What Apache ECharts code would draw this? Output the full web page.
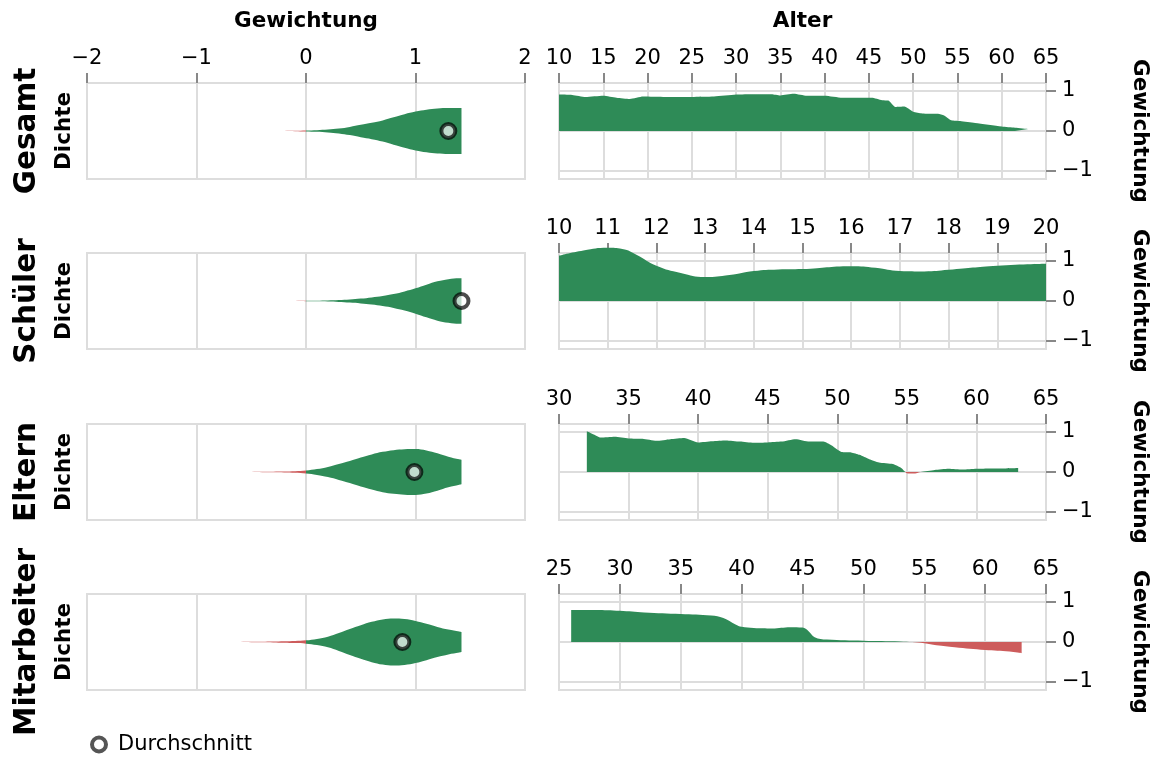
<!DOCTYPE html>
<html>
<head>
<meta charset="utf-8">
<script src="https://cdn.jsdelivr.net/npm/echarts@6/dist/echarts.min.js"></script>
<style>html,body{margin:0;padding:0;background:#fff}#c{width:1155px;height:758px}</style>
</head>
<body>
<div id="c"></div>
<script>
// ---------- DATA ----------
const groups = ['Gesamt', 'Schüler', 'Eltern', 'Mitarbeiter'];

// Violin (density of Gewichtung)
const violinX = [-0.8,-0.7,-0.6,-0.5,-0.4,-0.3,-0.2,-0.1,0,0.1,0.2,0.3,0.4,0.5,0.6,0.7,0.8,0.9,1.0,1.1,1.2,1.3,1.4,1.42];
const densGesamt      = [0,0,0,0,0,0,0.002,0.006,0.02,0.035,0.06,0.1,0.17,0.26,0.34,0.44,0.57,0.7,0.81,0.89,0.94,0.96,0.96,0.96];
const densSchueler    = [0,0,0,0,0,0.001,0.002,0.004,0.008,0.014,0.022,0.04,0.065,0.1,0.15,0.21,0.29,0.4,0.53,0.68,0.82,0.91,0.95,0.95];
const densEltern      = [0,0,0.002,0.004,0.007,0.011,0.017,0.03,0.06,0.12,0.21,0.33,0.46,0.6,0.73,0.84,0.91,0.95,0.96,0.9,0.78,0.64,0.53,0.51];
const densMitarbeiter = [0,0.002,0.004,0.007,0.011,0.018,0.03,0.045,0.07,0.13,0.22,0.37,0.54,0.7,0.84,0.94,0.98,0.96,0.88,0.76,0.63,0.52,0.44,0.42];
const meanWeights = [1.30, 1.42, 0.99, 0.88];
const weightAxisMin = -2, weightAxisMax = 2, weightAxisStep = 1;

// Gewichtung by Alter
const ageGesamt = [10,11.5,13,15,16.5,18,19.5,22,25,27.5,30,32,34,35,36.5,38,40,42,44,45.3,46.5,47.2,48,49,50,51,52.8,53.5,54.3,55.3,57,60,61.5,63];
const wGesamt   = [0.91,0.9,0.85,0.88,0.83,0.8,0.86,0.85,0.85,0.86,0.91,0.92,0.92,0.89,0.93,0.88,0.88,0.83,0.83,0.83,0.77,0.76,0.6,0.61,0.48,0.44,0.43,0.39,0.27,0.25,0.2,0.11,0.08,0.05];
const ageSchueler = [10,10.5,11,11.3,11.6,12,12.5,13,13.5,14,14.5,15,16,16.5,17,17.5,18,19,20];
const wSchueler   = [1.13,1.26,1.33,1.3,1.15,0.88,0.7,0.6,0.65,0.75,0.79,0.8,0.87,0.83,0.75,0.74,0.78,0.88,0.93];
const ageEltern = [32,32.5,33,34,35,36,37,38,39,40,41,42,43,44,45,46,47,48,49,49.6,50.3,51,51.6,52.3,53,54,54.6,55,55.5,56,57,58,59,60,61,62,63];
const wEltern   = [1.02,0.94,0.86,0.88,0.84,0.83,0.78,0.82,0.85,0.74,0.77,0.79,0.76,0.73,0.74,0.76,0.82,0.76,0.76,0.66,0.5,0.49,0.43,0.32,0.24,0.2,0.1,-0.03,-0.04,0.0,0.05,0.08,0.06,0.08,0.09,0.09,0.10];
const ageMitarbeiter = [26,28,30,32,35,37.5,38.5,39.5,40,41,42.5,44,45,45.5,46,47,50,53,55,56,57.5,60,62,63];
const wMitarbeiter   = [0.80,0.80,0.78,0.74,0.70,0.66,0.60,0.44,0.38,0.35,0.34,0.37,0.36,0.27,0.12,0.06,0.03,0.01,-0.03,-0.08,-0.13,-0.2,-0.24,-0.28];
const ageAxisMin  = [10, 10, 30, 25];
const ageAxisMax  = [65, 20, 65, 65];
const ageAxisStep = [5, 1, 5, 5];
const gewichtTicks = [-1, 0, 1];

// ---------- BUILD ----------
const densities = [densGesamt, densSchueler, densEltern, densMitarbeiter];
const ages = [ageGesamt, ageSchueler, ageEltern, ageMitarbeiter];
const weights = [wGesamt, wSchueler, wEltern, wMitarbeiter];
const smoothAmt = [0.2, 0.5, 0.2, 0.4];

const GREEN = '#2e8b57', RED = '#cd5c5c';
const FONT = 'DejaVu Sans';
const rowTop = [83, 253, 424, 594];
const rowH = 96;
const minus = v => String(v).replace('-', '\u2212');

const grid = [], xAxis = [], yAxis = [], series = [], graphic = [];
const violinIdx = [], areaIdx = [];

for (let i = 0; i < 4; i++) {
  grid.push({left: 87, width: 438, top: rowTop[i], height: rowH, show: true, borderColor: '#ddd', borderWidth: 2});
}
for (let i = 0; i < 4; i++) {
  grid.push({left: 559, width: 487, top: rowTop[i], height: rowH, show: true, borderColor: '#ddd', borderWidth: 2});
}

for (let i = 0; i < 4; i++) {
  xAxis.push({
    type: 'value', gridIndex: i, position: 'top',
    min: weightAxisMin, max: weightAxisMax, interval: weightAxisStep,
    axisLine: {show: false, onZero: false},
    axisTick: {show: i === 0, length: 10, lineStyle: {color: '#888', width: 2}},
    axisLabel: {show: i === 0, fontSize: 21, color: '#000', fontFamily: FONT, margin: 14, formatter: minus},
    splitLine: {show: true, lineStyle: {color: '#ddd', width: 2}}
  });
  yAxis.push({type: 'value', gridIndex: i, min: -1, max: 1, show: false});
}
for (let i = 0; i < 4; i++) {
  xAxis.push({
    type: 'value', gridIndex: 4 + i, position: 'top',
    min: ageAxisMin[i], max: ageAxisMax[i], interval: ageAxisStep[i],
    axisLine: {show: false, onZero: false},
    axisTick: {show: true, length: 10, lineStyle: {color: '#888', width: 2}},
    axisLabel: {fontSize: 21, color: '#000', fontFamily: FONT, margin: 14},
    splitLine: {show: true, lineStyle: {color: '#ddd', width: 2}}
  });
  yAxis.push({
    type: 'value', gridIndex: 4 + i, position: 'right', min: -1.2, max: 1.2,
    axisLine: {show: false, onZero: false},
    axisTick: {show: true, length: 10, customValues: gewichtTicks, lineStyle: {color: '#888', width: 2}},
    axisLabel: {fontSize: 21, color: '#000', fontFamily: FONT, margin: 16, customValues: gewichtTicks, formatter: minus},
    splitLine: {show: true, lineStyle: {color: '#ddd', width: 2}}
  });
}

// violins: upper half and lower half, both filled to the zero line
for (let i = 0; i < 4; i++) {
  const d = densities[i];
  [1, -1].forEach(sign => {
    series.push({
      type: 'line', xAxisIndex: i, yAxisIndex: i,
      data: violinX.map((x, k) => [x, sign * d[k] / 2]),
      smooth: 0.4, showSymbol: false, silent: true,
      lineStyle: {width: 0, opacity: 0},
      areaStyle: {opacity: 1}
    });
    violinIdx.push(series.length - 1);
  });
  series.push({
    name: 'Durchschnitt', type: 'scatter', xAxisIndex: i, yAxisIndex: i,
    data: [[meanWeights[i], 0]], symbol: 'circle', symbolSize: 14, z: 5, silent: true,
    itemStyle: {color: 'rgba(255,255,255,0.7)', borderColor: 'rgba(0,0,0,0.7)', borderWidth: 4, opacity: 1}
  });
}
// areas
for (let i = 0; i < 4; i++) {
  series.push({
    type: 'line', xAxisIndex: 4 + i, yAxisIndex: 4 + i,
    data: ages[i].map((a, k) => [a, weights[i][k]]),
    smooth: smoothAmt[i], showSymbol: false, silent: true, clip: false,
    lineStyle: {width: 0, opacity: 0},
    areaStyle: {opacity: 1}
  });
  areaIdx.push(series.length - 1);
}

// texts
graphic.push({type: 'text', x: 306, y: 21, style: {text: 'Gewichtung', font: 'bold 21.5px "DejaVu Sans"', fill: '#000', textAlign: 'center', textVerticalAlign: 'middle'}});
graphic.push({type: 'text', x: 802.5, y: 21, style: {text: 'Alter', font: 'bold 21.5px "DejaVu Sans"', fill: '#000', textAlign: 'center', textVerticalAlign: 'middle'}});
for (let i = 0; i < 4; i++) {
  const cy = rowTop[i] + 48;
  graphic.push({type: 'text', x: 27, y: cy, rotation: Math.PI / 2, style: {text: groups[i], font: 'bold 29.5px "DejaVu Sans"', fill: '#000', textAlign: 'center', textVerticalAlign: 'middle'}});
  graphic.push({type: 'text', x: 64, y: cy, rotation: Math.PI / 2, style: {text: 'Dichte', font: 'bold 21.5px "DejaVu Sans"', fill: '#000', textAlign: 'center', textVerticalAlign: 'middle'}});
  graphic.push({type: 'text', x: 1140, y: cy, rotation: -Math.PI / 2, style: {text: 'Gewichtung', font: 'bold 21.5px "DejaVu Sans"', fill: '#000', textAlign: 'center', textVerticalAlign: 'middle'}});
}

const pieces = [{min: -10, max: 0, color: RED}, {gt: 0, max: 10, color: GREEN}];
const option = {
  animation: false,
  textStyle: {fontFamily: FONT},
  grid, xAxis, yAxis, series, graphic,
  visualMap: [
    {type: 'piecewise', show: false, dimension: 0, seriesIndex: violinIdx, pieces: pieces},
    {type: 'piecewise', show: false, dimension: 1, seriesIndex: areaIdx, pieces: pieces}
  ],
  legend: {
    data: ['Durchschnitt'], left: 90, top: 734, padding: 0, itemWidth: 14, itemHeight: 14, icon: 'circle',
    itemStyle: {color: '#fff', borderColor: '#555', borderWidth: 4},
    textStyle: {fontSize: 21, color: '#000', fontFamily: FONT, padding: [0, 0, 0, 7]}
  }
};
const chart = echarts.init(document.getElementById('c'), null, {renderer: 'canvas'});
chart.setOption(option);
</script>
</body>
</html>
